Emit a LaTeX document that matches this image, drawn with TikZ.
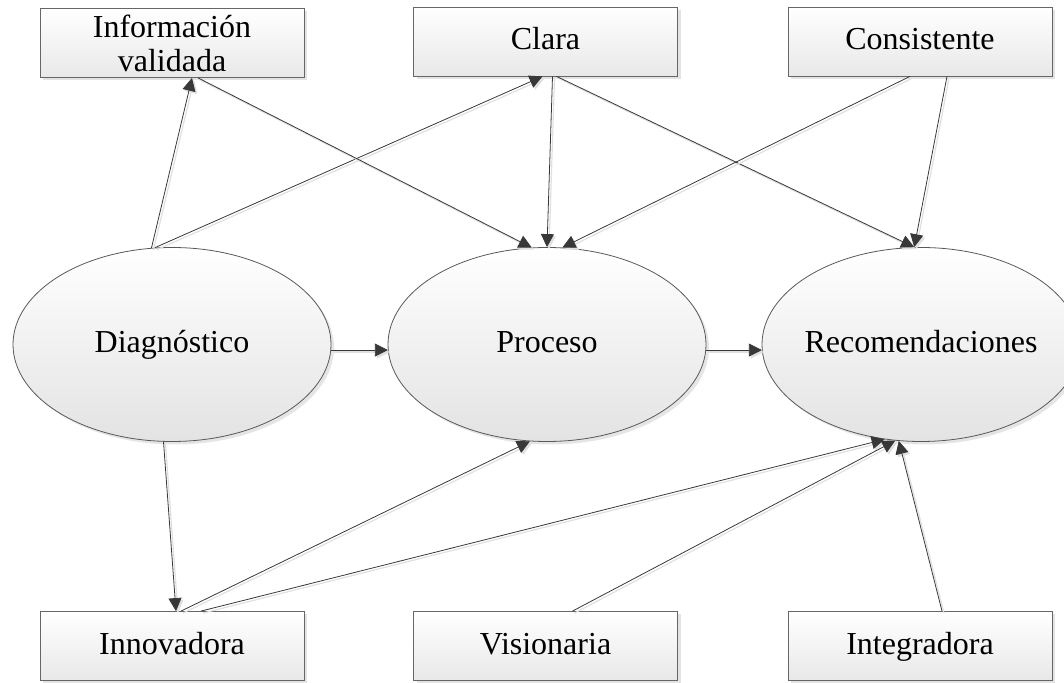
\documentclass[tikz,border=0pt]{standalone}
\usepackage{fontspec}
\setmainfont{Liberation Serif}
\usetikzlibrary{shapes.geometric,arrows.meta,shadows}

\begin{document}
\begin{tikzpicture}[x=1pt, y=1pt,
  every node/.style={font=\fontsize{32}{34}\selectfont, text height=20pt, text depth=3pt},
  caja/.style={rectangle, draw=black!60, line width=0.8pt, top color=white, bottom color=black!9,
    minimum width=264pt, minimum height=69pt, inner sep=2pt, align=center,
    drop shadow={fill=black!22, shadow xshift=3pt, shadow yshift=-3pt}},
  elip/.style={ellipse, draw=black!65, line width=0.8pt, top color=white, bottom color=black!11,
    minimum width=318pt, minimum height=194pt, inner xsep=-12pt,
    drop shadow={fill=black!20, shadow xshift=3pt, shadow yshift=-3pt}},
  flecha/.style={draw=black!78, line width=0.8pt, -{Triangle[length=13pt,width=13pt]},
    preaction={draw=black!12, line width=1.2pt, transform canvas={shift={(2pt,-2pt)}}}}]
\useasboundingbox (0,0) rectangle (1064,682);

% fila de arriba
\node[caja, text height=, text depth=] (info) at (172,639) {Información\\validada};
\node[caja] (clara) at (545.5,640.5) {Clara};
\node[caja] (cons) at (920,640.5) {Consistente};
% fases
\node[elip] (diag) at (172,337.5) {Diagnóstico};
\node[elip] (proc) at (547,337.5) {Proceso};
\node[elip] (recom) at (921,337.5) {Recomendaciones};
% fila de abajo
\node[caja] (innov) at (172,36) {Innovadora};
\node[caja] (vision) at (545.5,36) {Visionaria};
\node[caja] (integ) at (920,36) {Integradora};

\draw[flecha] (diag.102) -- ([xshift=20pt]info.south);
\draw[flecha] (diag.100) -- ([xshift=-3pt]clara.south);
\draw[flecha] ([xshift=26pt]info.south) -- (proc.99);
\draw[flecha] ([xshift=7pt]clara.south) -- (proc.90);
\draw[flecha] ([xshift=11pt]clara.south) -- (recom.94);
\draw[flecha] ([xshift=-10pt]cons.south) -- (proc.81);
\draw[flecha] ([xshift=27pt]cons.south) -- (recom.94);
\draw[flecha] (diag.-2) -- (proc.182);
\draw[flecha] (proc.-2) -- (recom.182);
\draw[flecha] (diag.265) -- ([xshift=4pt]innov.north);
\draw[flecha] ([xshift=9pt]innov.north) -- (proc.260);
\draw[flecha] ([xshift=29pt]innov.north) -- (recom.249);
\draw[flecha] ([xshift=27pt]vision.north) -- (recom.255);
\draw[flecha] ([xshift=22pt]integ.north) -- (recom.257);
\end{tikzpicture}
\end{document}
